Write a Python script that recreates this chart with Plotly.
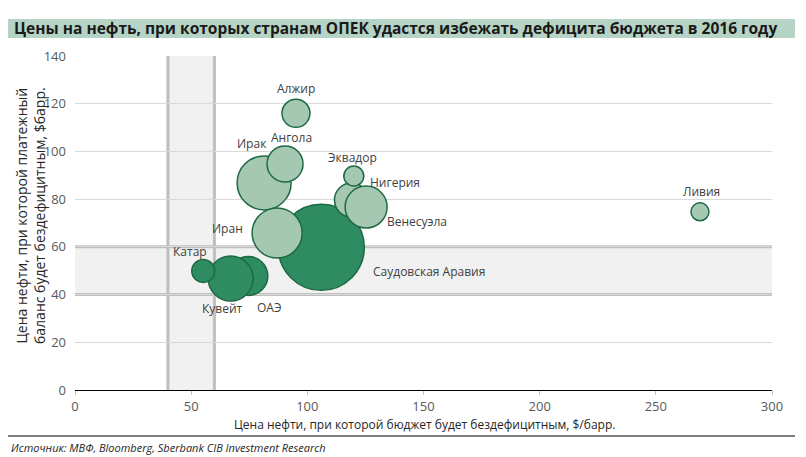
import plotly.graph_objects as go

# ---- data ----
countries = ["Саудовская Аравия", "ОАЭ", "Кувейт", "Катар", "Ирак", "Ангола",
             "Иран", "Нигерия", "Венесуэла", "Алжир", "Эквадор", "Ливия"]
budget_breakeven = [106, 74.6, 67, 55.2, 81.4, 90.4, 87, 119, 125.3, 95.1, 120, 269]
current_account_breakeven = [59.8, 47.8, 46.7, 49.9, 86.8, 94.7, 65.8, 79.6, 76.7, 116, 89.7, 74.7]
bubble_size = [1849, 380, 506, 132, 729, 324, 625, 289, 441, 196, 100, 81]
gulf = [True, True, True, True, False, False, False, False, False, False, False, False]

x_ticks = [0, 50, 100, 150, 200, 250, 300]
y_ticks = [0, 20, 40, 60, 80, 100, 120, 140]
band_low, band_high = 40, 60

# label offsets in pixels (dx, dy up)
label_shift = {
    "Саудовская Аравия": (108, -24), "ОАЭ": (21, -32), "Кувейт": (-8, -30),
    "Катар": (-13, 19), "Ирак": (-12, 39), "Ангола": (6, 27), "Иран": (-50, 5),
    "Нигерия": (44, 18), "Венесуэла": (51, -14), "Алжир": (0, 25),
    "Эквадор": (-1, 19), "Ливия": (2, 20),
}

DARK = "#2e8b62"
LIGHT = "#a5c8b2"
EDGE = "#1d6a42"
FONT = "Open Sans"

fig = go.Figure()
fig.add_trace(go.Scatter(
    x=budget_breakeven, y=current_account_breakeven, mode="markers",
    marker=dict(size=bubble_size, sizemode="area", sizeref=0.5,
                color=[DARK if g else LIGHT for g in gulf],
                line=dict(color=EDGE, width=1.5), opacity=1),
    hoverinfo="text", text=countries, showlegend=False,
))

shapes = []
# bands
shapes.append(dict(type="rect", xref="x", yref="y", x0=0, x1=300, y0=band_low, y1=band_high,
                   fillcolor="#f1f1f1", line=dict(width=0), layer="below"))
shapes.append(dict(type="rect", xref="x", yref="y", x0=band_low, x1=band_high, y0=0, y1=140,
                   fillcolor="#f1f1f1", line=dict(width=0), layer="below"))
for v in (band_low, band_high):
    shapes.append(dict(type="line", xref="x", yref="y", x0=0, x1=300, y0=v, y1=v,
                       line=dict(color="#bfbfbf", width=3), layer="below"))
    shapes.append(dict(type="line", xref="x", yref="y", x0=v, x1=v, y0=0, y1=140,
                       line=dict(color="#bfbfbf", width=3), layer="below"))
# page pixel -> paper coords (plot area spans window px x 75..772, y 56..390)
pw, ph = 697.0, 334.0
def px_x(p):
    return (p - 75) / pw
def px_y(p):
    return (390 - p) / ph
shapes.append(dict(type="rect", xref="paper", yref="paper", x0=px_x(8), x1=px_x(795),
                   y0=px_y(38), y1=px_y(19), fillcolor="#b6d4c5", line=dict(width=0)))
shapes.append(dict(type="line", xref="paper", yref="paper", x0=px_x(8), x1=px_x(795),
                   y0=px_y(436), y1=px_y(436), line=dict(color="black", width=1.2)))

annotations = []
for c, xv, yv in zip(countries, budget_breakeven, current_account_breakeven):
    dx, dy = label_shift[c]
    annotations.append(dict(x=xv, y=yv, xref="x", yref="y", text=c, showarrow=False,
                            xshift=dx, yshift=dy,
                            font=dict(family=FONT, size=12, color="#404040")))

annotations.append(dict(x=px_x(12), y=px_y(28.5), xref="paper", yref="paper",
                        xanchor="left", yanchor="middle", showarrow=False,
                        text="<b>Цены на нефть, при которых странам ОПЕК удастся избежать дефицита бюджета в 2016 году</b>",
                        font=dict(family=FONT, size=15.5, color="#1a1a1a")))
annotations.append(dict(x=px_x(30), y=px_y(216), xref="paper", yref="paper",
                        xanchor="center", yanchor="middle", showarrow=False, textangle=-90,
                        text="Цена нефти, при которой платежный<br>баланс будет бездефицитным, $барр.",
                        font=dict(family=FONT, size=14, color="#262626")))
annotations.append(dict(x=px_x(424), y=px_y(424), xref="paper", yref="paper",
                        xanchor="center", yanchor="middle", showarrow=False,
                        text="Цена нефти, при которой бюджет будет бездефицитным, $/барр.",
                        font=dict(family=FONT, size=12, color="#262626")))
annotations.append(dict(x=px_x(9), y=px_y(447), xref="paper", yref="paper",
                        xanchor="left", yanchor="middle", showarrow=False,
                        text="<i>Источник: МВФ, Bloomberg, Sberbank CIB Investment Research</i>",
                        font=dict(family=FONT, size=11, color="#262626")))

# page body has an 8px default margin, so the figure is sized/placed to compensate
fig.update_layout(
    width=798, height=449,
    margin=dict(l=67, r=34, t=48, b=67),
    paper_bgcolor="white", plot_bgcolor="white",
    shapes=shapes, annotations=annotations,
    font=dict(family=FONT),
    xaxis=dict(range=[0, 300], tickvals=x_ticks, showgrid=False, zeroline=False,
               showline=True, linecolor="black", linewidth=1.2,
               ticks="outside", ticklen=4, tickcolor="#bfbfbf",
               tickfont=dict(family=FONT, size=13, color="#595959")),
    yaxis=dict(range=[0, 140], tickvals=y_ticks, showgrid=True, gridcolor="#d9d9d9",
               gridwidth=1, zeroline=False, showline=False, ticks="", ticklabelstandoff=8,
               tickfont=dict(family=FONT, size=13, color="#595959")),
)

fig.write_html("out.html")
